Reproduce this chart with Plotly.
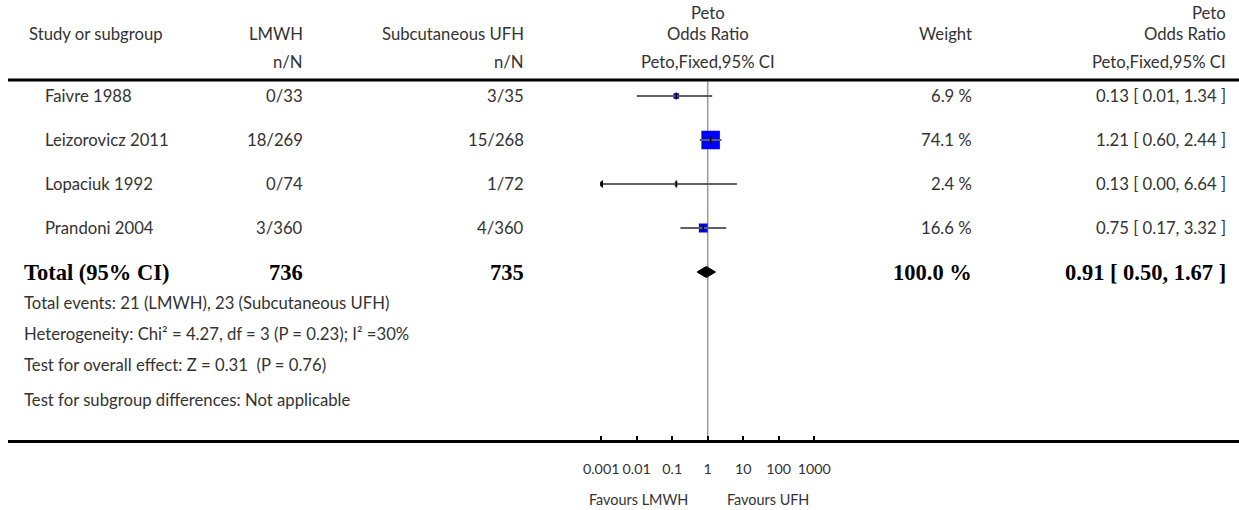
import numpy as np
import plotly.graph_objects as go

W, H = 1239, 510

# ---------------- data ----------------
studies = ["Faivre 1988", "Leizorovicz 2011", "Lopaciuk 1992", "Prandoni 2004"]
lmwh_events = ["0/33", "18/269", "0/74", "3/360"]
ufh_events = ["3/35", "15/268", "1/72", "4/360"]
odds_ratio = [0.13, 1.21, 0.13, 0.75]
ci_low = [0.01, 0.60, 0.00, 0.17]
ci_high = [1.34, 2.44, 6.64, 3.32]
weights = [6.9, 74.1, 2.4, 16.6]

total_lmwh = "736"
total_ufh = "735"
total_or = 0.91
total_low = 0.50
total_high = 1.67
total_weight = 100.0

tick_vals = [0.001, 0.01, 0.1, 1, 10, 100, 1000]
tick_text = ["0.001", "0.01", "0.1", "1", "10", "100", "1000"]
axis_min, axis_max = 0.001, 1000

footnotes = [
    "Total events: 21 (LMWH), 23 (Subcutaneous UFH)",
    "Heterogeneity: Chi\u00b2 = 4.27, df = 3 (P = 0.23); I\u00b2 =30%",
    "Test for overall effect: Z = 0.31  (P = 0.76)",
    "Test for subgroup differences: Not applicable",
]

# ---------------- layout helpers ----------------
FONT = "Lato"
SERIF = "Liberation Serif"
TXT = "#333333"
FS = 16.7

row_top_px, row_step_px = 96.0, 44.0
y_range = [(H - row_top_px) / row_step_px, -row_top_px / row_step_px]
rows = list(range(len(studies)))
total_row = len(studies)


def px(xp):
    return xp / W


def py(yp):
    return 1 - yp / H


fig = go.Figure()

# squares (weights)
fig.add_trace(go.Scatter(
    x=odds_ratio, y=rows, mode="markers",
    marker=dict(symbol="square", color="#0000ff", opacity=1,
                size=[2.15 * np.sqrt(w) for w in weights], line=dict(width=0)),
    hoverinfo="skip", showlegend=False))

# CI lines (clipped to axis)
for i in rows:
    lo = max(ci_low[i], axis_min)
    hi = min(ci_high[i], axis_max)
    fig.add_trace(go.Scatter(
        x=[lo, hi], y=[i, i], mode="lines",
        line=dict(color="#606060", width=2), hoverinfo="skip", showlegend=False))
    if ci_low[i] < axis_min:
        fig.add_trace(go.Scatter(
            x=[axis_min], y=[i], mode="markers",
            marker=dict(symbol="triangle-left", size=7, color="black"),
            hoverinfo="skip", showlegend=False))

# point estimate ticks
fig.add_trace(go.Scatter(
    x=odds_ratio, y=rows, mode="markers",
    marker=dict(symbol="line-ns", size=5, line=dict(color="black", width=1.5)),
    hoverinfo="skip", showlegend=False))

# diamond for total
dh = 5.5 / row_step_px
fig.add_trace(go.Scatter(
    x=[total_low, total_or, total_high, total_or, total_low],
    y=[total_row, total_row - dh, total_row, total_row + dh, total_row],
    mode="lines", fill="toself", fillcolor="black",
    line=dict(color="black", width=1), hoverinfo="skip", showlegend=False))

# ---------------- shapes ----------------
shapes = [
    dict(type="line", xref="paper", yref="paper", x0=px(8), x1=1, y0=py(80), y1=py(80),
         line=dict(color="black", width=3)),
    dict(type="line", xref="paper", yref="paper", x0=px(8), x1=1, y0=py(441.5), y1=py(441.5),
         line=dict(color="black", width=3)),
    dict(type="line", xref="x", yref="paper", x0=1, x1=1, y0=py(80), y1=py(441),
         line=dict(color="#9a9a9a", width=1.5), layer="below"),
]

# ---------------- annotations ----------------
ann = []


def add(text, x, y, xanchor="left", yref="paper", size=FS, family=FONT, color=TXT):
    ann.append(dict(text=text, x=x, y=y, xref="paper", yref=yref, xanchor=xanchor,
                    yanchor="middle", showarrow=False,
                    font=dict(family=family, size=size, color=color)))


# headers
add("Study or subgroup", px(27), py(34))
add("LMWH", px(305), py(34), "right")
add("n/N", px(305), py(62), "right")
add("Subcutaneous UFH", px(526), py(34), "right")
add("n/N", px(526), py(62), "right")
add("Peto", px(708), py(13), "center")
add("Odds Ratio", px(708), py(34), "center")
add("Peto,Fixed,95% CI", px(708), py(62), "center")
add("Weight", px(974), py(34), "right")
add("Peto", px(1228), py(13), "right")
add("Odds Ratio", px(1228), py(34), "right")
add("Peto,Fixed,95% CI", px(1228), py(62), "right")

# study rows
for i in rows:
    add(studies[i], px(43), i, yref="y")
    add(lmwh_events[i], px(305), i, "right", yref="y")
    add(ufh_events[i], px(526), i, "right", yref="y")
    add(f"{weights[i]:.1f} %", px(974), i, "right", yref="y")
    add(f"{odds_ratio[i]:.2f} [ {ci_low[i]:.2f}, {ci_high[i]:.2f} ]", px(1228), i, "right", yref="y")

# total row
BS = 22.5
add("<b>Total (95% CI)</b>", px(22), total_row, yref="y", size=BS, family=SERIF, color="black")
add(f"<b>{total_lmwh}</b>", px(305), total_row, "right", yref="y", size=BS, family=SERIF, color="black")
add(f"<b>{total_ufh}</b>", px(526), total_row, "right", yref="y", size=BS, family=SERIF, color="black")
add(f"<b>{total_weight:.1f} %</b>", px(974), total_row, "right", yref="y", size=BS, family=SERIF, color="black")
add(f"<b>{total_or:.2f} [ {total_low:.2f}, {total_high:.2f} ]</b>", px(1228), total_row, "right",
    yref="y", size=BS, family=SERIF, color="black")

# footnotes
for t, yp in zip(footnotes, [303, 334, 365, 400]):
    add(t, px(22), py(yp))

# favours labels
add("Favours LMWH", px(690), py(499), "right", size=14.4)
add("Favours UFH", px(725), py(499), "left", size=14.4)

# log axis: 35.5 px per decade, value 1 at x = 707.7 px; slight padding so end ticks show
pad = 0.03
lo_log, hi_log = np.log10(axis_min) - pad, np.log10(axis_max) + pad
x0_px = 707.7 + lo_log * 35.5
x1_px = 707.7 + hi_log * 35.5

fig.update_layout(
    width=W, height=H, autosize=False,
    margin=dict(l=0, r=0, t=0, b=0, pad=0, autoexpand=False),
    paper_bgcolor="white", plot_bgcolor="rgba(0,0,0,0)",
    shapes=shapes, annotations=ann,
    xaxis=dict(type="log", range=[lo_log, hi_log],
               domain=[px(x0_px), px(x1_px)], anchor="free", position=1 - 441.5 / H,
               showline=False, showgrid=False, zeroline=False, automargin=False,
               ticks="inside", ticklen=6, tickwidth=2, tickcolor="black",
               tickvals=tick_vals, ticktext=tick_text, ticklabelstandoff=17,
               tickfont=dict(family=FONT, size=14.3, color=TXT), fixedrange=True),
    yaxis=dict(range=y_range, domain=[0, 1], visible=False, fixedrange=True, automargin=False),
    showlegend=False,
)

fig.write_html(
    "out.html",
    config={"responsive": False, "displayModeBar": False},
    post_script="document.body.style.margin='0';document.body.style.overflow='hidden';",
)
